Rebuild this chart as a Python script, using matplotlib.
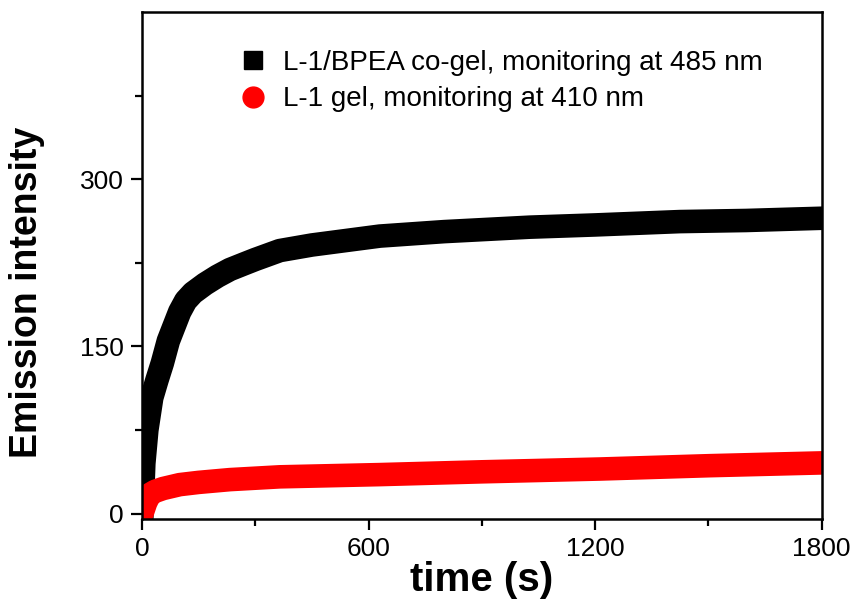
import matplotlib
matplotlib.use("Agg")
import matplotlib.pyplot as plt
from matplotlib.lines import Line2D

plt.rcParams['font.family'] = ['Liberation Sans', 'DejaVu Sans']

# values
t_cogel = [0, 5, 13, 26, 40, 54, 70, 85, 100, 116, 135, 167, 200, 233, 270, 300, 365, 450,
           630, 800, 1027, 1200, 1424, 1600, 1800]
i_cogel = [0, 45, 75, 104, 120, 135, 155, 168, 181, 191, 198, 206, 213, 219, 224, 228, 236, 241,
           249, 253, 257, 259, 262, 263, 265]

t_gel = [0, 5, 10, 20, 35, 56, 100, 150, 233, 365, 630, 900, 1212, 1503, 1800]
i_gel = [0, 5, 10, 17, 20, 22.5, 26, 28, 30.5, 33, 35, 37.5, 40, 43, 45.5]

labels = ["L-1/BPEA co-gel, monitoring at 485 nm", "L-1 gel, monitoring at 410 nm"]
xticks = [0, 600, 1200, 1800]
yticks = [0, 150, 300]

fig = plt.figure(figsize=(8.55, 6.03), dpi=100)
ax = fig.add_axes([0.166, 0.139, 0.795, 0.841])

# dense marker band drawn as a thick stroke
ax.plot(t_cogel, i_cogel, color="black", lw=17, solid_capstyle="projecting", solid_joinstyle="round")
ax.plot(t_gel, i_gel, color="#ff0000", lw=17, solid_capstyle="projecting", solid_joinstyle="round")

ax.set_xlim(0, 1800)
ax.set_ylim(-5, 450)
ax.set_xticks(xticks)
ax.set_yticks(yticks)
ax.set_xticks([300, 900, 1500], minor=True)
ax.set_yticks([75, 225, 375], minor=True)
ax.tick_params(which="major", direction="out", length=8, width=1.6, labelsize=19, pad=5)
ax.tick_params(which="minor", direction="out", length=5, width=1.6)
for s in ax.spines.values():
    s.set_linewidth(1.8)

ax.set_xlabel("time (s)", fontsize=29, fontweight="bold", labelpad=0)
ax.set_ylabel("Emission intensity", fontsize=27, fontweight="bold")
ax.yaxis.set_label_coords(-0.143, 0.448)

handles = [
    Line2D([], [], ls="none", marker="s", ms=13, color="black"),
    Line2D([], [], ls="none", marker="o", ms=15, color="#ff0000"),
]
ax.legend(handles, labels, loc="upper left", bbox_to_anchor=(0.11, 0.975), frameon=False,
          fontsize=20, handlelength=0.8, handletextpad=0.7, labelspacing=0.38)

fig.savefig("out.png", dpi=100)
